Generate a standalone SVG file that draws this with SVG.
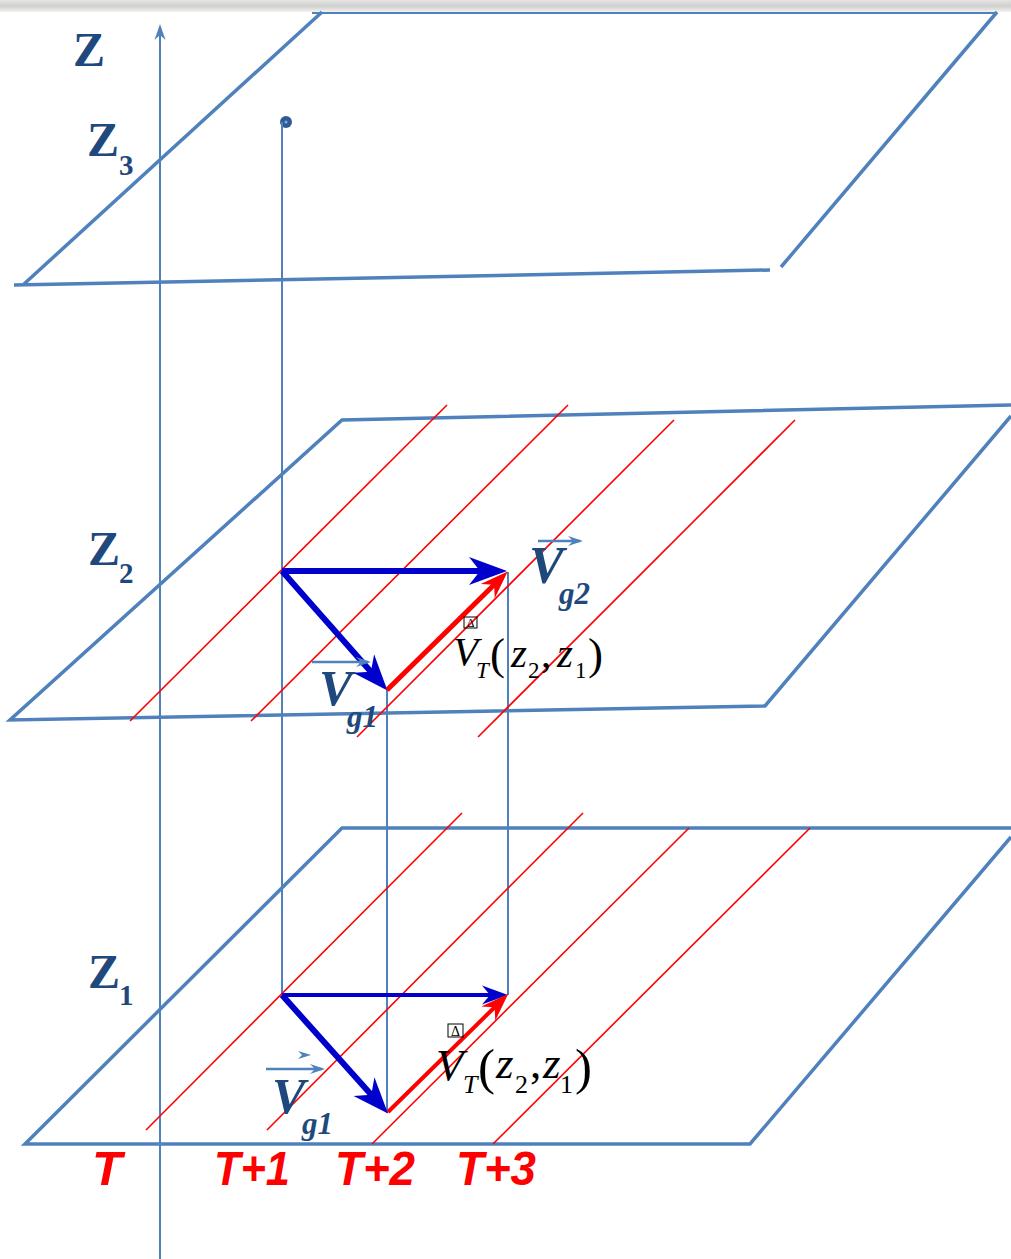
<svg xmlns="http://www.w3.org/2000/svg" width="1011" height="1259" viewBox="0 0 1011 1259">
<defs>
<linearGradient id="band" x1="0" y1="0" x2="0" y2="1">
<stop offset="0" stop-color="#e4e4e2"/>
<stop offset="0.5" stop-color="#cfcfcd"/>
<stop offset="1" stop-color="#f2f2f0"/>
</linearGradient>
<marker id="axisHead" markerUnits="userSpaceOnUse" markerWidth="20" markerHeight="14" viewBox="-18 -7 20 14" refX="-4" refY="0" orient="auto" overflow="visible">
<path d="M0,0 L-16,-5.5 L-11,0 L-16,5.5 Z" fill="#4f81bd"/>
</marker>
<marker id="headBig" markerUnits="userSpaceOnUse" markerWidth="40" markerHeight="30" viewBox="-40 -15 40 30" refX="-12" refY="0" orient="auto" overflow="visible">
<path d="M0,0 L-38,-14 L-27,0 L-38,14 Z" fill="#0000cd"/>
</marker>
<marker id="headDiag" markerUnits="userSpaceOnUse" markerWidth="40" markerHeight="30" viewBox="-40 -15 40 30" refX="-12" refY="0" orient="auto" overflow="visible">
<path d="M0,0 L-36,-14 L-25,0 L-36,14 Z" fill="#0000cd"/>
</marker>
<marker id="headSmall" markerUnits="userSpaceOnUse" markerWidth="30" markerHeight="22" viewBox="-30 -11 30 22" refX="-8" refY="0" orient="auto" overflow="visible">
<path d="M0,0 L-26,-9.5 L-18,0 L-26,9.5 Z" fill="#0000cd"/>
</marker>
<marker id="headRed" markerUnits="userSpaceOnUse" markerWidth="30" markerHeight="22" viewBox="-30 -11 30 22" refX="-8" refY="0" orient="auto" overflow="visible">
<path d="M0,0 L-28,-10 L-19,0 L-28,10 Z" fill="#ff0000"/>
</marker>
<marker id="headLbl" markerUnits="userSpaceOnUse" markerWidth="16" markerHeight="12" viewBox="-16 -6 16 12" refX="-3" refY="0" orient="auto" overflow="visible">
<path d="M0,0 L-15,-5 L-10,0 L-15,5 Z" fill="#4f81bd"/>
</marker>
</defs>
<style>
.plane{fill:none;stroke:#4f81bd;stroke-width:3.5;stroke-linecap:butt;stroke-linejoin:miter}
.thin{fill:none;stroke:#4f81bd;stroke-width:2}
.red{stroke:#ff0000;stroke-width:1.6;fill:none}
.vec{stroke:#0000cd;fill:none}
.rvec{stroke:#ff0000;fill:none}
.zl{font-family:"Liberation Serif","Times New Roman",serif;font-weight:bold;fill:#1f497d}
.vl{font-family:"Liberation Serif","Times New Roman",serif;font-weight:bold;font-style:italic;fill:#1f497d}
.eq{font-family:"Liberation Serif","Times New Roman",serif;fill:#000000}
.box{fill:none;stroke:#000;stroke-width:1}
.delta{font-family:"Liberation Serif","Times New Roman",serif;fill:#000;text-anchor:middle}
.tl{font-family:"Liberation Sans",Arial,sans-serif;font-weight:bold;font-style:italic;fill:#ff0000;font-size:48px}
.lblarrow{stroke:#4f81bd;stroke-width:2.5;fill:none}
</style>

<rect x="0" y="0" width="1011" height="12" fill="url(#band)"/>

<g id="axis-z">
<line x1="160" y1="1259" x2="160" y2="28" class="thin" marker-end="url(#axisHead)"/>
<text x="73" y="66" class="zl" font-size="48">Z</text>
</g>

<g id="plane-z3">
<path class="plane" d="M14,285 L770,270"/>
<path class="plane" d="M24,284 L322,12"/>
<path class="plane" d="M781,267 L997,12"/>
<path d="M312,13 L997,13" fill="none" stroke="#4f81bd" stroke-width="2"/>
<text x="87" y="156" class="zl" font-size="48">Z<tspan x="119" y="175" font-size="29">3</tspan></text>
</g>

<g id="plane-z2">
<path class="plane" d="M1011,405 L342,420 L10,720 L765,706 L1011,416"/>
<text x="88" y="565" class="zl" font-size="48">Z<tspan x="119" y="583" font-size="29">2</tspan></text>
</g>

<g id="plane-z1">
<path class="plane" d="M1011,828 L342,828 L25,1144 L750,1144 L1011,837"/>
<text x="88" y="988" class="zl" font-size="48">Z<tspan x="119" y="1005" font-size="29">1</tspan></text>
</g>

<g id="point-z3">
<circle cx="286" cy="122" r="6" fill="#2f5a92"/>
<circle cx="286" cy="122" r="1.6" fill="#7ea6d8"/>
</g>

<g id="connectors">
<line x1="282" y1="122" x2="282" y2="995" class="thin"/>
<line x1="387" y1="690" x2="387" y2="1113" class="thin"/>
<line x1="508" y1="572" x2="508" y2="995" class="thin"/>
</g>

<g id="time-lines-z2">
<line x1="130" y1="721" x2="447" y2="405" class="red"/>
<line x1="251" y1="721" x2="568" y2="405" class="red"/>
<line x1="357" y1="737" x2="674" y2="420" class="red"/>
<line x1="478" y1="737" x2="795" y2="420" class="red"/>
</g>

<g id="time-lines-z1">
<line x1="146" y1="1130" x2="462" y2="813" class="red"/>
<line x1="267" y1="1130" x2="583" y2="813" class="red"/>
<line x1="372" y1="1144" x2="689" y2="828" class="red"/>
<line x1="493" y1="1144" x2="810" y2="828" class="red"/>
</g>

<g id="vectors-z2">
<line x1="282" y1="571" x2="495" y2="571" class="vec" stroke-width="6" marker-end="url(#headBig)"/>
<line x1="282" y1="571" x2="379.5" y2="681.5" class="vec" stroke-width="6" marker-end="url(#headDiag)"/>
<line x1="387" y1="690" x2="502" y2="577" class="rvec" stroke-width="5" marker-end="url(#headRed)"/>
</g>

<g id="vectors-z1">
<line x1="282" y1="995" x2="500" y2="995" class="vec" stroke-width="4" marker-end="url(#headSmall)"/>
<line x1="282" y1="995" x2="380" y2="1104.5" class="vec" stroke-width="6" marker-end="url(#headDiag)"/>
<line x1="388" y1="1112" x2="502.5" y2="999.5" class="rvec" stroke-width="4" marker-end="url(#headRed)"/>
</g>

<g id="label-vg2">
<line x1="538" y1="541" x2="580" y2="541" class="lblarrow" marker-end="url(#headLbl)"/>
<text x="529" y="583" class="vl" font-size="52">V</text>
<text x="559" y="604" class="vl" font-size="31">g2</text>
</g>

<g id="label-vg1-z2">
<line x1="312" y1="662" x2="368" y2="662" class="lblarrow" marker-end="url(#headLbl)"/>
<text x="319" y="705" class="vl" font-size="50">V</text>
<text x="347" y="727" class="vl" font-size="31">g1</text>
</g>

<g id="label-vg1-z1">
<line x1="266" y1="1069" x2="322" y2="1069" class="lblarrow" marker-end="url(#headLbl)"/>
<path d="M298,1051 L311,1055 L298,1059 L302,1055 Z" fill="#4f81bd"/>
<text x="272" y="1113" class="vl" font-size="50">V</text>
<text x="302" y="1134" class="vl" font-size="31">g1</text>
</g>

<g id="label-vt-z2">
<rect x="464" y="617" width="13" height="11" class="box"/>
<text x="470.5" y="627" class="delta" font-size="12">Δ</text>
<text class="eq" font-size="41"><tspan x="453" y="665" font-style="italic">V</tspan><tspan x="476" y="678" font-size="23" font-style="italic">T</tspan><tspan x="490" y="669" font-size="45">(</tspan><tspan x="511" y="667" font-style="italic">z</tspan><tspan x="528" y="678" font-size="23">2</tspan><tspan x="541" y="667">,</tspan><tspan x="557" y="667" font-style="italic">z</tspan><tspan x="575" y="678" font-size="23">1</tspan><tspan x="588" y="669" font-size="45">)</tspan></text>
</g>

<g id="label-vt-z1">
<rect x="448" y="1024" width="15" height="13" class="box"/>
<text x="455.5" y="1036" class="delta" font-size="14">Δ</text>
<text class="eq" font-size="45"><tspan x="436" y="1080" font-style="italic">V</tspan><tspan x="463" y="1093" font-size="26" font-style="italic">T</tspan><tspan x="478" y="1084" font-size="51">(</tspan><tspan x="496" y="1078" font-style="italic">z</tspan><tspan x="515" y="1093" font-size="26">2</tspan><tspan x="530" y="1078">,</tspan><tspan x="543" y="1078" font-style="italic">z</tspan><tspan x="560" y="1093" font-size="26">1</tspan><tspan x="575" y="1084" font-size="51">)</tspan></text>
</g>

<g id="time-labels">
<text x="92" y="1185" class="tl" textLength="30" lengthAdjust="spacingAndGlyphs">T</text>
<text x="214" y="1185" class="tl" textLength="76" lengthAdjust="spacingAndGlyphs">T+1</text>
<text x="335" y="1185" class="tl" textLength="80" lengthAdjust="spacingAndGlyphs">T+2</text>
<text x="456" y="1185" class="tl" textLength="80" lengthAdjust="spacingAndGlyphs">T+3</text>
</g>
</svg>
